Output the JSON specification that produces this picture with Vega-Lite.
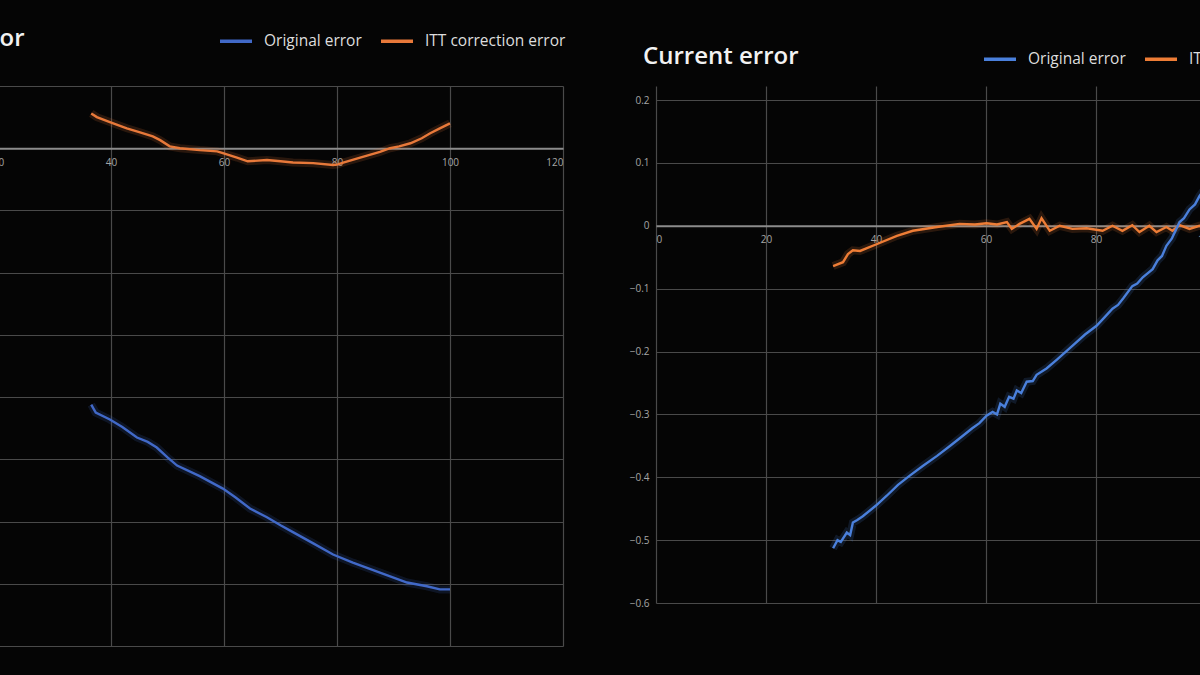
{
  "$schema": "https://vega.github.io/schema/vega-lite/v6.json",
  "background": "#050505",
  "autosize": {"type": "pad"},
  "padding": {"left": -128, "top": 23, "right": -129, "bottom": 29},
  "spacing": 63,
  "datasets": {
    "voltage": [
      {"series": "ITT correction error", "x": 36.5, "y": 0.056},
      {"series": "ITT correction error", "x": 37.5, "y": 0.05},
      {"series": "ITT correction error", "x": 39.8, "y": 0.042},
      {"series": "ITT correction error", "x": 42.8, "y": 0.032},
      {"series": "ITT correction error", "x": 45.0, "y": 0.026},
      {"series": "ITT correction error", "x": 47.4, "y": 0.019},
      {"series": "ITT correction error", "x": 48.7, "y": 0.013},
      {"series": "ITT correction error", "x": 50.4, "y": 0.003},
      {"series": "ITT correction error", "x": 52.2, "y": 0.0},
      {"series": "ITT correction error", "x": 55.7, "y": -0.003},
      {"series": "ITT correction error", "x": 58.8, "y": -0.005},
      {"series": "ITT correction error", "x": 59.8, "y": -0.008},
      {"series": "ITT correction error", "x": 62.3, "y": -0.015},
      {"series": "ITT correction error", "x": 64.2, "y": -0.021},
      {"series": "ITT correction error", "x": 67.6, "y": -0.019},
      {"series": "ITT correction error", "x": 70.0, "y": -0.021},
      {"series": "ITT correction error", "x": 72.2, "y": -0.023},
      {"series": "ITT correction error", "x": 75.8, "y": -0.024},
      {"series": "ITT correction error", "x": 79.3, "y": -0.027},
      {"series": "ITT correction error", "x": 80.2, "y": -0.026},
      {"series": "ITT correction error", "x": 81.1, "y": -0.023},
      {"series": "ITT correction error", "x": 84.1, "y": -0.015},
      {"series": "ITT correction error", "x": 87.6, "y": -0.006},
      {"series": "ITT correction error", "x": 89.4, "y": 0.0},
      {"series": "ITT correction error", "x": 91.0, "y": 0.003},
      {"series": "ITT correction error", "x": 93.0, "y": 0.008},
      {"series": "ITT correction error", "x": 95.0, "y": 0.016},
      {"series": "ITT correction error", "x": 96.5, "y": 0.024},
      {"series": "ITT correction error", "x": 98.2, "y": 0.032},
      {"series": "ITT correction error", "x": 100.0, "y": 0.04},
      {"series": "Original error", "x": 36.5, "y": -0.412},
      {"series": "Original error", "x": 37.3, "y": -0.425},
      {"series": "Original error", "x": 39.8, "y": -0.436},
      {"series": "Original error", "x": 42.0, "y": -0.448},
      {"series": "Original error", "x": 44.6, "y": -0.465},
      {"series": "Original error", "x": 46.5, "y": -0.472},
      {"series": "Original error", "x": 48.1, "y": -0.481},
      {"series": "Original error", "x": 50.0, "y": -0.497},
      {"series": "Original error", "x": 51.7, "y": -0.51},
      {"series": "Original error", "x": 55.7, "y": -0.527},
      {"series": "Original error", "x": 59.8, "y": -0.547},
      {"series": "Original error", "x": 62.0, "y": -0.561},
      {"series": "Original error", "x": 64.6, "y": -0.579},
      {"series": "Original error", "x": 67.6, "y": -0.593},
      {"series": "Original error", "x": 70.0, "y": -0.606},
      {"series": "Original error", "x": 72.2, "y": -0.617},
      {"series": "Original error", "x": 75.8, "y": -0.635},
      {"series": "Original error", "x": 79.3, "y": -0.653},
      {"series": "Original error", "x": 82.8, "y": -0.666},
      {"series": "Original error", "x": 87.6, "y": -0.682},
      {"series": "Original error", "x": 92.4, "y": -0.698},
      {"series": "Original error", "x": 95.9, "y": -0.704},
      {"series": "Original error", "x": 98.2, "y": -0.709},
      {"series": "Original error", "x": 100.0, "y": -0.709}
    ],
    "current": [
      {"series": "ITT correction error", "x": 32.2, "y": -0.064},
      {"series": "ITT correction error", "x": 34.0, "y": -0.058},
      {"series": "ITT correction error", "x": 34.9, "y": -0.045},
      {"series": "ITT correction error", "x": 35.8, "y": -0.039},
      {"series": "ITT correction error", "x": 37.1, "y": -0.04},
      {"series": "ITT correction error", "x": 40.2, "y": -0.029},
      {"series": "ITT correction error", "x": 43.8, "y": -0.016},
      {"series": "ITT correction error", "x": 46.7, "y": -0.008},
      {"series": "ITT correction error", "x": 51.1, "y": -0.002},
      {"series": "ITT correction error", "x": 55.2, "y": 0.003},
      {"series": "ITT correction error", "x": 58.0, "y": 0.002},
      {"series": "ITT correction error", "x": 60.1, "y": 0.004},
      {"series": "ITT correction error", "x": 62.0, "y": 0.002},
      {"series": "ITT correction error", "x": 63.8, "y": 0.006},
      {"series": "ITT correction error", "x": 64.7, "y": -0.005},
      {"series": "ITT correction error", "x": 66.1, "y": 0.003},
      {"series": "ITT correction error", "x": 67.9, "y": 0.011},
      {"series": "ITT correction error", "x": 69.2, "y": -0.005},
      {"series": "ITT correction error", "x": 70.1, "y": 0.012},
      {"series": "ITT correction error", "x": 71.6, "y": -0.008},
      {"series": "ITT correction error", "x": 73.4, "y": 0.0},
      {"series": "ITT correction error", "x": 75.7, "y": -0.005},
      {"series": "ITT correction error", "x": 78.3, "y": -0.004},
      {"series": "ITT correction error", "x": 81.2, "y": -0.008},
      {"series": "ITT correction error", "x": 83.0, "y": 0.0},
      {"series": "ITT correction error", "x": 84.8, "y": -0.008},
      {"series": "ITT correction error", "x": 86.6, "y": 0.001},
      {"series": "ITT correction error", "x": 87.9, "y": -0.01},
      {"series": "ITT correction error", "x": 89.7, "y": 0.0},
      {"series": "ITT correction error", "x": 91.0, "y": -0.01},
      {"series": "ITT correction error", "x": 92.8, "y": -0.002},
      {"series": "ITT correction error", "x": 93.9, "y": -0.008},
      {"series": "ITT correction error", "x": 95.2, "y": 0.001},
      {"series": "ITT correction error", "x": 97.0, "y": -0.005},
      {"series": "ITT correction error", "x": 98.8, "y": 0.0},
      {"series": "ITT correction error", "x": 100.0, "y": -0.004},
      {"series": "Original error", "x": 32.2, "y": -0.513},
      {"series": "Original error", "x": 33.0, "y": -0.5},
      {"series": "Original error", "x": 33.6, "y": -0.503},
      {"series": "Original error", "x": 34.7, "y": -0.488},
      {"series": "Original error", "x": 35.3, "y": -0.492},
      {"series": "Original error", "x": 35.8, "y": -0.472},
      {"series": "Original error", "x": 36.6, "y": -0.468},
      {"series": "Original error", "x": 37.6, "y": -0.462},
      {"series": "Original error", "x": 40.0, "y": -0.445},
      {"series": "Original error", "x": 42.0, "y": -0.429},
      {"series": "Original error", "x": 44.0, "y": -0.412},
      {"series": "Original error", "x": 46.2, "y": -0.397},
      {"series": "Original error", "x": 48.5, "y": -0.382},
      {"series": "Original error", "x": 51.1, "y": -0.366},
      {"series": "Original error", "x": 53.5, "y": -0.35},
      {"series": "Original error", "x": 55.8, "y": -0.334},
      {"series": "Original error", "x": 57.5, "y": -0.322},
      {"series": "Original error", "x": 58.8, "y": -0.314},
      {"series": "Original error", "x": 60.1, "y": -0.302},
      {"series": "Original error", "x": 61.2, "y": -0.296},
      {"series": "Original error", "x": 62.0, "y": -0.3},
      {"series": "Original error", "x": 62.6, "y": -0.283},
      {"series": "Original error", "x": 63.4, "y": -0.288},
      {"series": "Original error", "x": 64.2, "y": -0.272},
      {"series": "Original error", "x": 65.0, "y": -0.275},
      {"series": "Original error", "x": 65.6, "y": -0.262},
      {"series": "Original error", "x": 66.4, "y": -0.266},
      {"series": "Original error", "x": 67.4, "y": -0.248},
      {"series": "Original error", "x": 68.5, "y": -0.247},
      {"series": "Original error", "x": 69.2, "y": -0.237},
      {"series": "Original error", "x": 71.0, "y": -0.227},
      {"series": "Original error", "x": 73.0, "y": -0.212},
      {"series": "Original error", "x": 75.7, "y": -0.191},
      {"series": "Original error", "x": 78.0, "y": -0.173},
      {"series": "Original error", "x": 80.1, "y": -0.159},
      {"series": "Original error", "x": 81.5, "y": -0.146},
      {"series": "Original error", "x": 83.0, "y": -0.132},
      {"series": "Original error", "x": 84.0, "y": -0.126},
      {"series": "Original error", "x": 85.0, "y": -0.115},
      {"series": "Original error", "x": 86.6, "y": -0.096},
      {"series": "Original error", "x": 87.5, "y": -0.092},
      {"series": "Original error", "x": 88.5, "y": -0.082},
      {"series": "Original error", "x": 90.3, "y": -0.069},
      {"series": "Original error", "x": 91.2, "y": -0.055},
      {"series": "Original error", "x": 92.0, "y": -0.048},
      {"series": "Original error", "x": 92.8, "y": -0.032},
      {"series": "Original error", "x": 93.8, "y": -0.02},
      {"series": "Original error", "x": 95.2, "y": 0.006},
      {"series": "Original error", "x": 96.0, "y": 0.012},
      {"series": "Original error", "x": 97.0, "y": 0.026},
      {"series": "Original error", "x": 98.0, "y": 0.034},
      {"series": "Original error", "x": 98.8, "y": 0.047},
      {"series": "Original error", "x": 100.0, "y": 0.062}
    ]
  },
  "config": {
    "view": {"stroke": null},
    "axis": {
      "gridColor": "#4a4a4a",
      "gridWidth": 1.2,
      "labelColor": "#a6a6a6",
      "labelFont": "Open Sans",
      "labelFontSize": 10,
      "ticks": false,
      "domain": false,
      "title": null
    },
    "legend": {
      "orient": "none",
      "direction": "horizontal",
      "title": null,
      "symbolType": "stroke",
      "symbolSize": 1024,
      "symbolStrokeWidth": 3.5,
      "symbolOpacity": 1,
      "labelFont": "Open Sans",
      "labelFontSize": 15.5,
      "labelColor": "#dedede",
      "labelOffset": 10,
      "columnPadding": 12,
      "padding": 0
    },
    "title": {
      "font": "Open Sans",
      "fontSize": 24,
      "fontWeight": 600,
      "color": "#f2f2f2",
      "anchor": "start",
      "frame": "group",
      "baseline": "alphabetic",
      "dx": -13
    }
  },
  "resolve": {"scale": {"color": "independent"}},
  "hconcat": [
    {
      "title": {"text": "Voltage error", "offset": -27.5},
      "width": 678,
      "height": 560,
      "data": {"name": "voltage"},
      "encoding": {
        "x": {
          "field": "x",
          "type": "quantitative",
          "scale": {"domain": [0, 120], "nice": false, "zero": false},
          "axis": {
            "values": [0, 20, 40, 60, 80, 100, 120],
            "offset": -497.8,
            "domain": true,
            "domainColor": "#8c8c8c",
            "domainWidth": 2,
            "labelPadding": 9,
            "grid": true
          }
        },
        "y": {
          "field": "y",
          "type": "quantitative",
          "scale": {"domain": [-0.8, 0.1], "nice": false, "zero": false},
          "axis": {
            "values": [-0.8, -0.7, -0.6, -0.5, -0.4, -0.3, -0.2, -0.1, 0, 0.1],
            "labels": false,
            "grid": true,
            "minExtent": 0,
            "maxExtent": 0
          }
        },
        "color": {
          "field": "series",
          "type": "nominal",
          "scale": {"domain": ["Original error", "ITT correction error"], "range": ["#4169c8", "#e8793a"]},
          "legend": {"legendX": 333, "legendY": -63}
        }
      },
      "layer": [
        {"mark": {"type": "line", "strokeWidth": 8, "opacity": 0.16}},
        {"mark": {"type": "line", "strokeWidth": 2.4}}
      ]
    },
    {
      "title": {"text": "Current error", "offset": -28},
      "width": 660,
      "height": 517,
      "data": {"name": "current"},
      "encoding": {
        "x": {
          "field": "x",
          "type": "quantitative",
          "scale": {"domain": [0, 120], "nice": false, "zero": false},
          "axis": {
            "values": [0, 20, 40, 60, 80, 100, 120],
            "offset": -377.2,
            "domain": true,
            "domainColor": "#8c8c8c",
            "domainWidth": 2,
            "labelPadding": 9,
            "grid": true
          }
        },
        "y": {
          "field": "y",
          "type": "quantitative",
          "scale": {"domain": [-0.6, 0.2223], "nice": false, "zero": false},
          "axis": {
            "values": [-0.6, -0.5, -0.4, -0.3, -0.2, -0.1, 0, 0.1, 0.2],
            "format": ".1~f",
            "labelPadding": 7,
            "grid": true,
            "minExtent": 24,
            "maxExtent": 24
          }
        },
        "color": {
          "field": "series",
          "type": "nominal",
          "scale": {"domain": ["Original error", "ITT correction error"], "range": ["#4a80dc", "#ee7d36"]},
          "legend": {"legendX": 326, "legendY": -45}
        }
      },
      "layer": [
        {"mark": {"type": "line", "strokeWidth": 8, "opacity": 0.16}},
        {"mark": {"type": "line", "strokeWidth": 2.4}}
      ]
    }
  ]
}
